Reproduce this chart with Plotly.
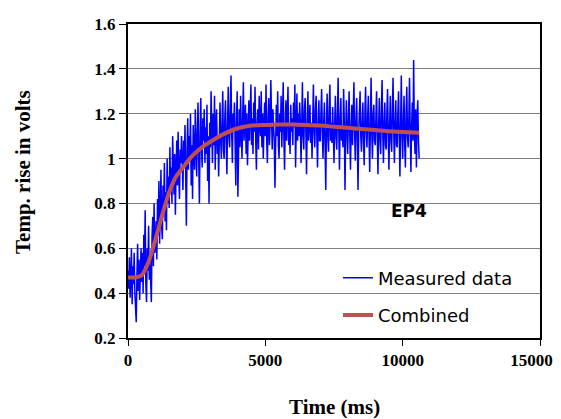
import plotly.graph_objects as go

# ---- data ----
time_step_ms = 25
measured = [
    0.50, 0.42, 0.56, 0.38, 0.47, 0.60, 0.35, 0.52, 0.44, 0.58, 0.40, 0.30, 0.27, 0.48, 0.62, 0.41, 0.55, 0.37, 0.50, 0.60,
    0.45, 0.58, 0.40, 0.66, 0.52, 0.77, 0.44, 0.36, 0.60, 0.50, 0.70, 0.46, 0.55, 0.38, 0.36, 0.65, 0.74, 0.52, 0.80, 0.58,
    0.60, 0.72, 0.55, 0.82, 0.66, 0.90, 0.62, 0.75, 0.95, 0.70, 0.64, 0.88, 0.78, 0.98, 0.72, 0.85, 0.68, 1.00, 0.80, 0.92,
    0.78, 1.05, 0.86, 0.96, 0.80, 1.10, 0.90, 0.84, 1.02, 0.75, 0.95, 1.08, 0.88, 1.12, 0.92, 0.82, 1.04, 0.98, 1.10, 0.90,
    0.86, 1.08, 0.98, 1.15, 0.92, 0.70, 1.04, 1.18, 0.95, 1.10, 1.00, 1.20, 0.88, 1.06, 0.82, 1.15, 1.02, 0.95, 1.22, 1.05,
    0.92, 1.12, 1.25, 1.00, 0.80, 1.10, 1.27, 1.05, 0.96, 1.18, 1.08, 1.22, 0.98, 1.14, 1.02, 1.24, 0.90, 1.10, 0.80, 1.16,
    1.05, 1.30, 1.12, 0.98, 1.20, 1.06, 1.28, 0.95, 1.15, 1.22, 1.02, 1.10, 0.92, 1.18, 1.25, 1.08, 1.00, 1.16, 1.30, 1.04,
    1.00, 1.18, 1.26, 1.08, 0.93, 1.15, 1.32, 1.10, 1.05, 1.22, 1.37, 1.12, 0.98, 1.20, 1.14, 1.25, 1.06, 0.88, 1.16, 1.30,
    0.83, 1.10, 1.22, 1.05, 1.28, 1.12, 1.00, 1.18, 1.34, 1.08, 1.15, 1.24, 1.02, 1.20, 0.97, 1.14, 1.26, 1.08, 1.19, 1.33,
    1.06, 1.18, 1.02, 1.25, 1.12, 1.32, 1.08, 0.95, 1.16, 1.22, 1.04, 1.28, 1.14, 1.10, 1.30, 1.05, 1.20, 1.00, 1.15, 1.25,
    1.10, 1.33, 1.08, 0.98, 1.18, 1.27, 1.06, 1.15, 1.35, 1.12, 1.04, 1.22, 1.16, 1.08, 0.87, 1.14, 1.24, 1.10, 1.30, 1.06,
    1.00, 1.20, 1.12, 1.28, 1.05, 1.18, 1.34, 1.10, 0.95, 1.14, 1.26, 1.08, 1.20, 1.32, 1.06, 1.16, 1.02, 1.24, 1.12, 1.18,
    1.06, 1.25, 1.14, 1.33, 0.96, 1.12, 1.29, 1.08, 1.20, 1.10, 1.25, 1.16, 0.98, 1.15, 1.34, 1.10, 1.04, 1.22, 1.27, 1.12,
    0.93, 1.14, 1.30, 1.08, 1.18, 1.24, 1.07, 1.16, 1.00, 1.20, 1.33, 1.12, 1.05, 1.22, 1.28, 1.10, 0.96, 1.15, 1.26, 1.08,
    1.08, 1.20, 1.31, 1.12, 1.00, 1.16, 1.25, 1.06, 0.86, 1.14, 1.29, 1.10, 1.03, 1.22, 1.33, 1.08, 1.16, 1.07, 1.23, 1.12,
    0.98, 1.15, 1.28, 1.10, 1.04, 1.20, 1.36, 1.12, 0.95, 1.18, 1.27, 1.08, 1.14, 1.05, 1.31, 1.16, 0.86, 1.10, 1.26, 1.12,
    1.02, 1.18, 1.30, 1.10, 0.95, 1.14, 1.24, 1.06, 1.20, 1.34, 1.12, 0.99, 1.16, 1.27, 1.08, 0.86, 1.12, 1.22, 1.30, 1.10,
    1.03, 1.16, 1.25, 1.08, 0.97, 1.20, 1.32, 1.12, 1.05, 1.18, 1.28, 1.10, 0.94, 1.15, 1.36, 1.12, 1.00, 1.20, 1.24, 1.08,
    1.06, 1.18, 1.30, 1.10, 0.93, 1.14, 1.27, 1.08, 1.02, 1.22, 1.35, 1.12, 0.98, 1.16, 1.25, 1.06, 1.04, 1.20, 1.31, 1.10,
    0.95, 1.15, 1.28, 1.08, 1.03, 1.22, 1.36, 1.12, 0.98, 1.16, 1.26, 1.06, 1.05, 1.20, 1.30, 1.10, 0.92, 1.14, 1.37, 1.12,
    1.00, 1.16, 1.28, 1.06, 0.96, 1.20, 1.32, 1.10, 1.05, 1.18, 1.36, 1.12, 0.94, 1.14, 1.25, 1.08, 1.44, 1.12, 1.02, 1.22,
    0.96, 1.18, 1.26, 1.08, 1.00,
]
measured_time = [i * time_step_ms for i in range(len(measured))]

combined_time = [0, 250, 500, 750, 1000, 1250, 1500, 1750, 2000, 2250, 2500,
                 2750, 3000, 3500, 4000, 4500, 5000, 5500, 6000, 6500, 7000,
                 7500, 8000, 8500, 9000, 9500, 10000, 10600]
combined = [0.47, 0.47, 0.48, 0.54, 0.64, 0.75, 0.85, 0.92, 0.96, 1.00, 1.03,
            1.055, 1.075, 1.11, 1.135, 1.147, 1.15, 1.152, 1.152, 1.15, 1.147,
            1.142, 1.137, 1.132, 1.127, 1.122, 1.119, 1.115]

y_ticks = [0.2, 0.4, 0.6, 0.8, 1.0, 1.2, 1.4, 1.6]
y_tick_labels = ["0.2", "0.4", "0.6", "0.8", "1", "1.2", "1.4", "1.6"]
x_ticks = [0, 5000, 10000, 15000]
# the last label is padded (as in the source) so that it stays inside the page
x_tick_labels = ["0", "5000", "10000", "15000\u00a0\u00a0\u00a0\u00a0"]

SERIF = "Liberation Serif, Times New Roman, serif"
SANS = "DejaVu Sans, sans-serif"

fig = go.Figure()
fig.add_trace(go.Scatter(
    x=measured_time, y=measured, mode="lines", name="Measured data",
    line=dict(color="#0000FF", width=1.5), legendgroup="a"))
fig.add_trace(go.Scatter(
    x=combined_time, y=combined, mode="lines", name="Combined",
    line=dict(color="#C0504D", width=4, shape="spline", smoothing=0.6),
    legendgroup="b"))

# the page body has an 8px default margin, so the figure is offset by 8px
fig.update_layout(
    width=553, height=411,
    margin=dict(l=120, r=21, t=16, b=81, autoexpand=False),
    paper_bgcolor="white", plot_bgcolor="white",
    showlegend=True,
    legend=dict(x=0.5097, xanchor="left", y=0.25, yanchor="top",
                bgcolor="rgba(0,0,0,0)", font=dict(family=SANS, size=18, color="black"),
                tracegroupgap=11),
    xaxis=dict(range=[0, 15000], tickvals=x_ticks, ticktext=x_tick_labels,
               showgrid=False, zeroline=False, ticklabeloverflow="allow",
               automargin=False,
               showline=True, linecolor="black", linewidth=2, mirror=True,
               ticks="outside", ticklen=6, tickcolor="black", tickwidth=1,
               tickfont=dict(family=SERIF, size=17, color="black", weight="bold")),
    yaxis=dict(range=[0.2, 1.6], tickvals=y_ticks, ticktext=y_tick_labels,
               showgrid=True, gridcolor="#808080", gridwidth=1, zeroline=False,
               automargin=False,
               showline=True, linecolor="black", linewidth=2, mirror=True,
               ticks="outside", ticklen=7, tickcolor="black", tickwidth=1,
               tickfont=dict(family=SERIF, size=17, color="black", weight="bold")),
    shapes=[dict(type="rect", xref="paper", yref="paper",
                 x0=0.488, x1=0.968, y0=0.025, y1=0.443,
                 fillcolor="white", line=dict(width=0), layer="between")],
    annotations=[
        dict(text="<b>Time (ms)</b>", xref="paper", yref="paper",
             x=0.5, y=(338 - 407) / 314, xanchor="center", yanchor="middle",
             showarrow=False, font=dict(family=SERIF, size=21, color="black")),
        dict(text="<b>Temp. rise in volts</b>", xref="paper", yref="paper",
             x=(23 - 128) / 412, y=(338 - 172) / 314, xanchor="center", yanchor="middle",
             textangle=-90, showarrow=False,
             font=dict(family=SERIF, size=21, color="black")),
        dict(text="<b>EP4</b>", xref="x", yref="y", x=10230, y=0.765,
             xanchor="center", yanchor="middle", showarrow=False,
             font=dict(family=SANS, size=17, color="black")),
    ],
)

fig.write_html("out.html")
